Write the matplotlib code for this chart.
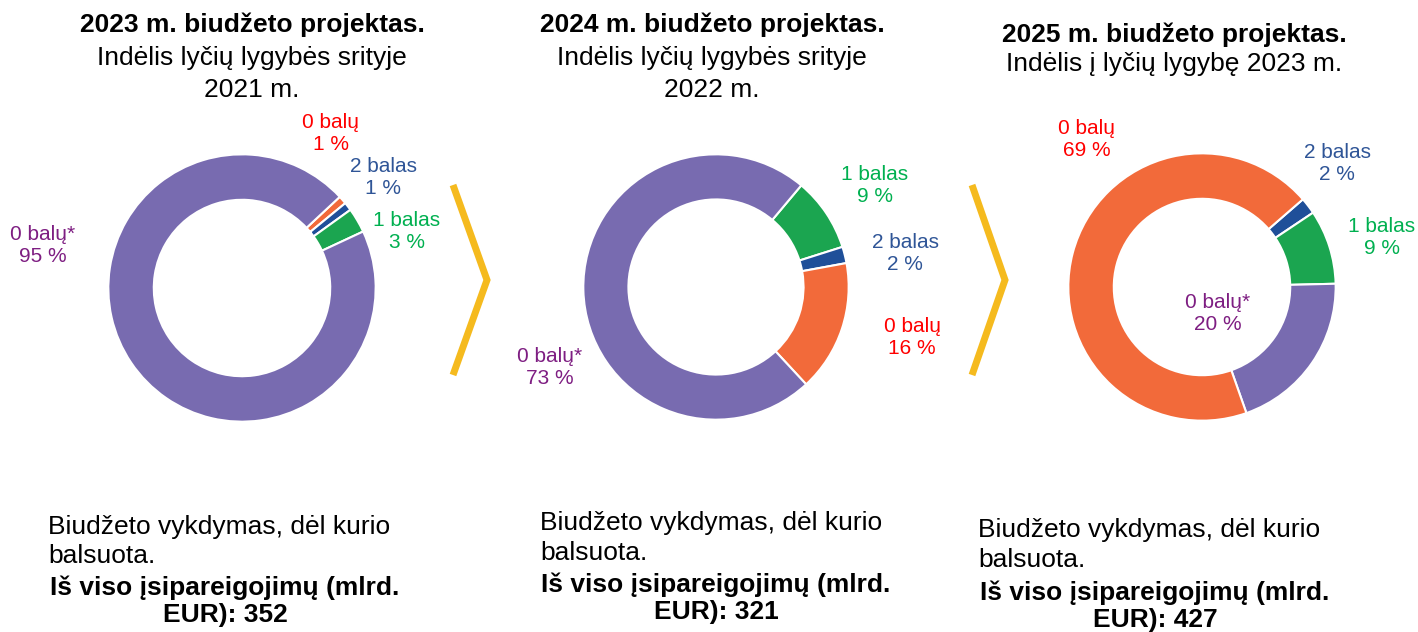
import matplotlib
matplotlib.use('Agg')
import matplotlib.pyplot as plt

plt.rcParams['font.family'] = ['Liberation Sans', 'DejaVu Sans']

# Data (share of commitments by gender-equality score, %)
cats_2023 = ['0 balų', '2 balas', '1 balas', '0 balų*']
vals_2023 = [1, 1, 3, 95]
cats_2024 = ['1 balas', '2 balas', '0 balų', '0 balų*']
vals_2024 = [9, 2, 16, 73]
cats_2025 = ['2 balas', '1 balas', '0 balų*', '0 balų']
vals_2025 = [2, 9, 20, 69]

titles = [
    ['2023 m. biudžeto projektas.', 'Indėlis lyčių lygybės srityje', '2021 m.'],
    ['2024 m. biudžeto projektas.', 'Indėlis lyčių lygybės srityje', '2022 m.'],
    ['2025 m. biudžeto projektas.', 'Indėlis į lyčių lygybę 2023 m.'],
]
totals = [352, 321, 427]

# colours per category
wedge_col = {'0 balų*': '#786BB0', '0 balų': '#F26A3A', '1 balas': '#1BA550', '2 balas': '#1F4F99'}
text_col = {'0 balų*': '#7E1E82', '0 balų': '#FF0000', '1 balas': '#00B050', '2 balas': '#2F5597'}

W, H = 1418, 632
fig = plt.figure(figsize=(W / 100, H / 100), dpi=100)
fig.patch.set_facecolor('white')

# overlay axes in pixel coordinates for texts and chevrons
ov = fig.add_axes([0, 0, 1, 1])
ov.set_xlim(0, W)
ov.set_ylim(H, 0)
ov.axis('off')

# donut geometry (pixel centre, radius) and label anchors
pies = [
    dict(cats=cats_2023, vals=vals_2023, c=(242, 288), r=135, start=43,
         lab=[(331, 133), (383, 178), (407, 231), (43, 245)],
         title_x=252, title_y=[32, 65, 97],
         bx=48, bc=225, by=[534, 563, 595, 622]),
    dict(cats=cats_2024, vals=vals_2024, c=(716, 287), r=134, start=50,
         lab=[(875, 185), (905, 254), (912, 337), (550, 367)],
         title_x=712, title_y=[32, 65, 97],
         bx=540, bc=716, by=[530, 560, 592, 619]),
    dict(cats=cats_2025, vals=vals_2025, c=(1202, 287), r=135, start=41,
         lab=[(1337, 163), (1382, 238), (1218, 313), (1087, 140)],
         title_x=1174, title_y=[42, 71],
         bx=978, bc=1155, by=[537, 567, 600, 627]),
]

for k, p in enumerate(pies):
    cx, cy = p['c']
    r = p['r']
    ax = fig.add_axes([(cx - r) / W, 1 - (cy + r) / H, 2 * r / W, 2 * r / H])
    ax.pie(p['vals'], colors=[wedge_col[c] for c in p['cats']], startangle=p['start'],
           counterclock=False, radius=1,
           wedgeprops=dict(width=0.34, edgecolor='white', linewidth=1.5))
    ax.set_xlim(-1.01, 1.01)
    ax.set_ylim(-1.01, 1.01)
    ax.axis('off')

    for (lx, ly), cat, v in zip(p['lab'], p['cats'], p['vals']):
        ov.text(lx, ly, f'{cat}\n{v} %', color=text_col[cat], fontsize=15,
                ha='center', va='center', linespacing=1.2, zorder=5)

    for i, line in enumerate(titles[k]):
        ov.text(p['title_x'], p['title_y'][i], line, fontsize=19, ha='center', va='baseline',
                fontweight='bold' if i == 0 else 'normal', color='black')

    ov.text(p['bx'], p['by'][0], 'Biudžeto vykdymas, dėl kurio', fontsize=19, ha='left', va='baseline')
    ov.text(p['bx'], p['by'][1], 'balsuota.', fontsize=19, ha='left', va='baseline')
    ov.text(p['bc'], p['by'][2], 'Iš viso įsipareigojimų (mlrd.', fontsize=19, ha='center',
            va='baseline', fontweight='bold')
    ov.text(p['bc'], p['by'][3], f'EUR): {totals[k]}', fontsize=19, ha='center',
            va='baseline', fontweight='bold')

# yellow chevrons between the years
for x0, x1 in [(453, 487), (972, 1005)]:
    ov.plot([x0, x1, x0], [185, 280, 375], color='#F5BA1E', linewidth=5,
            solid_capstyle='butt', solid_joinstyle='miter')

fig.savefig('out.png', dpi=100)
